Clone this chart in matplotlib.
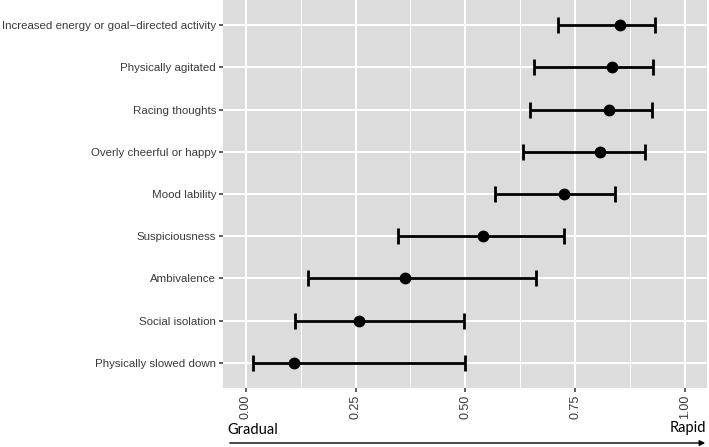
import matplotlib.pyplot as plt
from matplotlib.ticker import MultipleLocator

# Symptoms, bottom to top as drawn
symptoms = [
    "Physically slowed down",
    "Social isolation",
    "Ambivalence",
    "Suspiciousness",
    "Mood lability",
    "Overly cheerful or happy",
    "Racing thoughts",
    "Physically agitated",
    "Increased energy or goal\u2212directed activity",
]
estimate = [0.109, 0.258, 0.363, 0.541, 0.724, 0.806, 0.827, 0.833, 0.853]
lower = [0.016, 0.112, 0.142, 0.347, 0.568, 0.631, 0.648, 0.657, 0.711]
upper = [0.499, 0.497, 0.660, 0.724, 0.841, 0.909, 0.926, 0.928, 0.932]

x_ticks = [0.0, 0.25, 0.5, 0.75, 1.0]
x_tick_labels = ["0.00", "0.25", "0.50", "0.75", "1.00"]

plt.rcParams["font.family"] = ["Liberation Sans", "DejaVu Sans"]

fig = plt.figure(figsize=(7.09, 4.47), dpi=100)
ax = fig.add_axes([0.3145, 0.132, 0.6825, 0.868])

ypos = list(range(len(symptoms)))
xerr = [[e - lo for e, lo in zip(estimate, lower)],
        [hi - e for e, hi in zip(estimate, upper)]]
ax.errorbar(estimate, ypos, xerr=xerr, fmt="o", color="black",
            markersize=7.5, elinewidth=2.0, capsize=6, capthick=2.0, zorder=3)

ax.set_facecolor("#dcdcdc")
ax.set_xlim(-0.052, 1.05)
ax.set_ylim(-0.6, len(symptoms) - 0.4)
ax.set_xticks(x_ticks)
ax.set_xticklabels(x_tick_labels, rotation=90)
ax.xaxis.set_minor_locator(MultipleLocator(0.125))
ax.set_yticks(ypos)
ax.set_yticklabels(symptoms)

ax.grid(which="major", color="white", linewidth=1.4, zorder=0)
ax.grid(which="minor", axis="x", color="white", linewidth=0.7, zorder=0)
ax.set_axisbelow(True)
for s in ax.spines.values():
    s.set_visible(False)
ax.tick_params(axis="y", which="major", length=3, width=1.1,
               color="#333333", labelcolor="#3a3a3a", labelsize=8.25, pad=2)
ax.tick_params(axis="x", which="major", length=3, width=1.1,
               color="#333333", labelcolor="#3a3a3a", labelsize=9, pad=2)
ax.tick_params(axis="x", which="minor", length=0)

# Direction arrow below the axis
fig.text(227 / 709, 1 - 430 / 447, "Gradual", fontsize=10.5, family="Lato",
         ha="left", va="center", color="black")
fig.text(706 / 709, 1 - 428 / 447, "Rapid", fontsize=10.5, family="Lato",
         ha="right", va="center", color="black")
ax.annotate("", xy=(708 / 709, 1 - 443 / 447), xytext=(227 / 709, 1 - 443 / 447),
            xycoords="figure fraction", textcoords="figure fraction",
            arrowprops=dict(arrowstyle="-|>", color="black", lw=1.0,
                            mutation_scale=8))

fig.savefig("out.png", dpi=100)
